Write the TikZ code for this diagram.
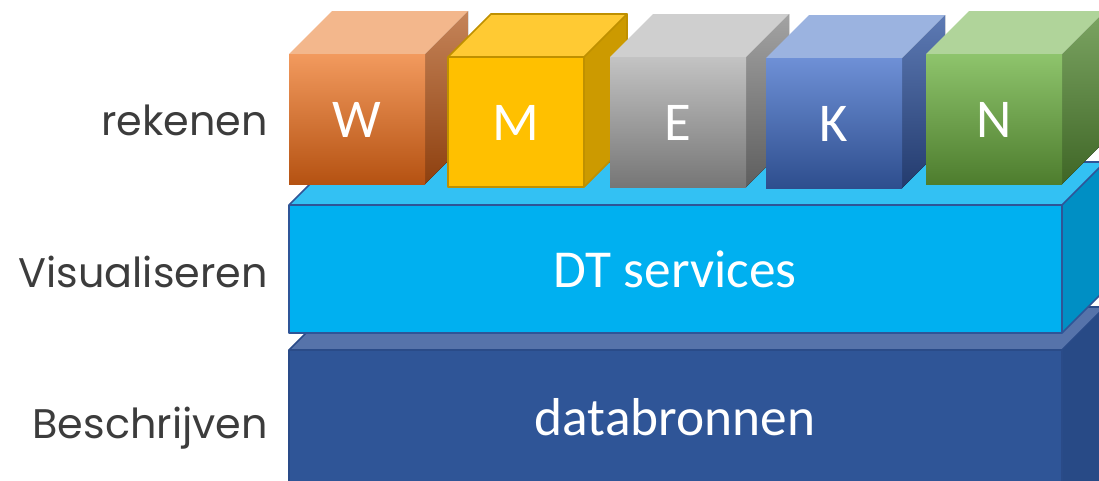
\documentclass[tikz,border=0pt]{standalone}
\usepackage{fontspec}
\setmainfont{Carlito}
\newfontfamily\labelfont{Poppins}
\usetikzlibrary{calc}
\definecolor{labelgray}{HTML}{3C3C3C}
% databronnen
\definecolor{dbfront}{HTML}{2F5597}
\definecolor{dbtop}{HTML}{5673AA}
\definecolor{dbright}{HTML}{284A86}
\definecolor{dbline}{HTML}{2A4B88}
% DT services
\definecolor{dtfront}{HTML}{00B0F0}
\definecolor{dttop}{HTML}{33C1F3}
\definecolor{dtright}{HTML}{008FC4}
\definecolor{dtline}{HTML}{2F5597}
% W
\definecolor{wft}{HTML}{F29A5E}
\definecolor{wfb}{HTML}{B55212}
\definecolor{wtop}{HTML}{F3B78C}
\definecolor{wrt}{HTML}{C58459}
\definecolor{wrb}{HTML}{8E400F}
% M
\definecolor{mfront}{HTML}{FFC000}
\definecolor{mtop}{HTML}{FFCA33}
\definecolor{mright}{HTML}{CC9A00}
\definecolor{mline}{HTML}{BF9000}
% E
\definecolor{eft}{HTML}{C3C3C3}
\definecolor{efb}{HTML}{767676}
\definecolor{etop}{HTML}{CFCFCF}
\definecolor{ert}{HTML}{A3A3A3}
\definecolor{erb}{HTML}{5E5E5E}
% K
\definecolor{kft}{HTML}{6E90D6}
\definecolor{kfb}{HTML}{2E4E8E}
\definecolor{ktop}{HTML}{9BB3E0}
\definecolor{krt}{HTML}{5D7AB4}
\definecolor{krb}{HTML}{233B6E}
% N
\definecolor{nft}{HTML}{8EC46C}
\definecolor{nfb}{HTML}{4E7D2E}
\definecolor{ntop}{HTML}{B0D49A}
\definecolor{nrt}{HTML}{7CA563}
\definecolor{nrb}{HTML}{3F6626}
\newcommand\mycube[9]{%
  \fill[top color=#8,bottom color=#9] ($(#2,#3)+(136,0)$) -- ++(43,-43) -- ++(0,130) -- ++(-43,43) -- cycle;
  \fill[#7] (#2,#3) -- ++(43,-43) -- ++(136,0) -- ++(-43,43) -- cycle;
  \fill[top color=#5,bottom color=#6] (#2,#3) rectangle ++(136,130);
  \node[lettr] (#1) at ($(#2,#3)+(68,83)$) {#4};
}
\begin{document}
\begin{tikzpicture}[x=0.75pt,y=-0.75pt,
  lettr/.style={text=white,font=\fontsize{41}{41}\selectfont,anchor=base,inner sep=0pt},
  blocktext/.style={text=white,font=\fontsize{40}{40}\selectfont,anchor=base,inner sep=0pt},
  sidelabel/.style={text=labelgray,font=\labelfont\fontsize{31}{31}\selectfont,anchor=base east,inner sep=0pt}]
\useasboundingbox (0,0) rectangle (1099,480);
\clip (0,0) rectangle (1099,480);
% databronnen block
\fill[dbright] (1062,350) -- (1105,307) -- (1105,500) -- (1062,500) -- cycle;
\fill[dbtop] (289,350) -- (332,307) -- (1105,307) -- (1062,350) -- cycle;
\fill[dbfront] (289,350) rectangle (1062,500);
\draw[dbline,line width=1.2pt] (289,500) -- (289,350) -- (332,307) -- (1105,307) (289,350) -- (1062,350) -- (1105,307) (1062,350) -- (1062,500);
\node[blocktext] (db) at (675,435) {databronnen};
% DT services block
\fill[dtright] (1062,205) -- (1105,162) -- (1105,290) -- (1062,333) -- cycle;
\fill[dttop] (289,205) -- (332,162) -- (1105,162) -- (1062,205) -- cycle;
\fill[dtfront] (289,205) rectangle (1062,333);
\draw[dtline,line width=1.2pt,line join=round] (289,333) rectangle (1062,205) (289,205) -- (332,162) -- (1105,162) (1062,205) -- (1105,162) (1062,333) -- (1105,290);
\node[blocktext] (dt) at (675,287) {DT services};
% cubes
\mycube{W}{289}{54}{W}{wft}{wfb}{wtop}{wrt}{wrb}
\mycube{M}{448}{57}{M}{mfront}{mfront}{mtop}{mright}{mright}
\draw[mline,line width=1.3pt,line join=round] (448,57) rectangle ++(136,130) (448,57) -- ++(43,-43) -- ++(136,0) -- ++(-43,43) ++(43,-43) -- ++(0,130) -- ++(-43,43);
\mycube{E}{610}{57}{E}{eft}{efb}{etop}{ert}{erb}
\mycube{K}{766}{58}{K}{kft}{kfb}{ktop}{krt}{krb}
\mycube{N}{926}{54}{N}{nft}{nfb}{ntop}{nrt}{nrb}
% side labels
\node[sidelabel] (l1) at (268,135) {rekenen};
\node[sidelabel] (l2) at (268,287) {Visualiseren};
\node[sidelabel] (l3) at (268,438) {Beschrijven};
\end{tikzpicture}
\end{document}
